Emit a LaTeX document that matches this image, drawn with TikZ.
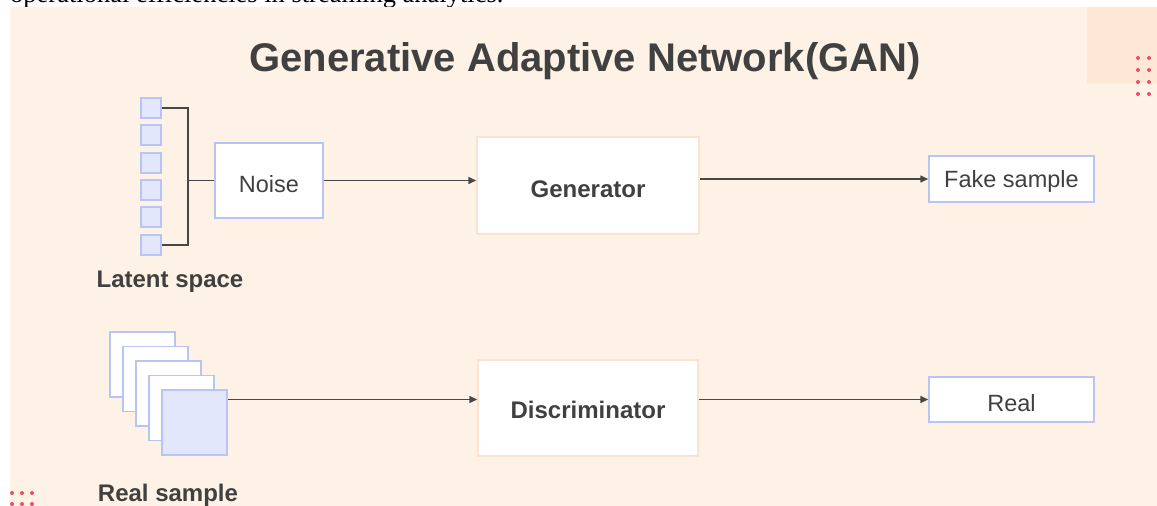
\documentclass[tikz,border=0pt]{standalone}
\usepackage{fontspec}
\setmainfont{Liberation Sans}
\newfontfamily\serifpart{Liberation Serif}
\usetikzlibrary{arrows.meta}
\definecolor{panel}{HTML}{FEF2E6}
\definecolor{corner}{HTML}{FDE8D5}
\definecolor{dotred}{HTML}{EE4D66}
\definecolor{blueline}{HTML}{B8C4F6}
\definecolor{bluefill}{HTML}{E2E7FC}
\definecolor{peachline}{HTML}{FCE2D0}
\definecolor{ink}{HTML}{404040}
\definecolor{wire}{HTML}{474747}
\newcommand{\lowtext}[1]{\raisebox{-3.5pt}[\height][\depth]{#1}}
\tikzset{
  bluebox/.style={draw=blueline, line width=1.5pt, fill=white, inner sep=0pt, text=ink, font=\fontsize{23.5}{26}\selectfont},
  cell/.style={draw=blueline, line width=1.5pt, fill=bluefill, inner sep=0pt, minimum width=20pt, minimum height=20pt},
  sheet/.style={draw=blueline, line width=1.5pt, fill=white, inner sep=0pt, minimum width=65pt, minimum height=65pt},
  mainbox/.style={draw=peachline, line width=1.5pt, fill=white, inner sep=0pt, text=ink, font=\bfseries\fontsize{24}{26}\selectfont},
  caption/.style={text=ink, font=\bfseries\fontsize{24}{26}\selectfont, inner sep=0pt},
  wireline/.style={draw=wire, line width=1.5pt},
  arrowline/.style={wireline, -{Triangle[length=8pt,width=7pt]}},
  reddot/.style={fill=dotred, draw=none},
}
\begin{document}
\begin{tikzpicture}[x=1pt,y=-1pt]
\useasboundingbox (0,0) rectangle (1157,506);
\fill[white] (0,0) rectangle (1157,506);
% cut-off line of text above the panel
\node[anchor=base west, inner sep=0pt, text=black, font=\serifpart\fontsize{26.5}{29}\selectfont] (toptext) at (10,2.5) {operational efficiencies in streaming analytics.};
% panel
\fill[panel] (10,7) rectangle (1157,506);
\fill[corner] (1087,7) rectangle (1157,83);
\foreach \yy in {58,70,82,94} {
  \foreach \xx in {1138,1149} { \fill[reddot] (\xx,\yy) circle (2pt); }
}
\foreach \yy in {493,504} {
  \foreach \xx in {12,22,32} { \fill[reddot] (\xx,\yy) circle (2pt); }
}
% title
\node[text=ink, font=\bfseries\fontsize{40}{44}\selectfont, inner sep=0pt] (title) at (585,61) {Generative Adaptive Network(GAN)};
% latent space cells
\node[cell] (l1) at (151,108) {};
\node[cell] (l2) at (151,135) {};
\node[cell] (l3) at (151,163) {};
\node[cell] (l4) at (151,190) {};
\node[cell] (l5) at (151,217) {};
\node[cell] (l6) at (151,245) {};
\node[caption] (latent) at (170,282) {Latent space};
% boxes
\node[bluebox, minimum width=108pt, minimum height=75pt] (noise) at (269,180.5) {\lowtext{Noise}};
\node[mainbox, minimum width=222pt, minimum height=97pt] (gen) at (588,185.5) {\lowtext{Generator}};
\node[bluebox, minimum width=165pt, minimum height=46pt] (fake) at (1011.5,179) {\raisebox{-2pt}[\height][\depth]{Fake sample}};
\node[mainbox, minimum width=220pt, minimum height=96pt] (disc) at (588,408) {\raisebox{-2pt}[\height][\depth]{Discriminator}};
\node[bluebox, minimum width=165pt, minimum height=45pt] (real) at (1011.5,399.5) {\lowtext{Real}};
% real sample stack
\node[sheet] (r1) at (142.5,364.5) {};
\node[sheet] (r2) at (155.5,379) {};
\node[sheet] (r3) at (168.5,393.5) {};
\node[sheet] (r4) at (181.5,408) {};
\node[sheet, fill=bluefill] (r5) at (194.5,422.5) {};
\node[caption] (realsample) at (168,495) {Real sample};
% bracket
\coordinate (br) at (188,180.5);
\draw[wireline] (l1.east) -- (l1.east -| br) -- (l6.east -| br) -- (l6.east);
\draw[wireline] (br) -- (noise.west);
% arrows
\draw[arrowline] (noise.east) -- (noise.east -| gen.west);
\draw[arrowline] (gen.east |- fake.west) -- (fake.west);
\coordinate (rsout) at (r5.east |- real.west);
\draw[arrowline] (rsout) -- (rsout -| disc.west);
\draw[arrowline] (disc.east |- real.west) -- (real.west);
\end{tikzpicture}
\end{document}
